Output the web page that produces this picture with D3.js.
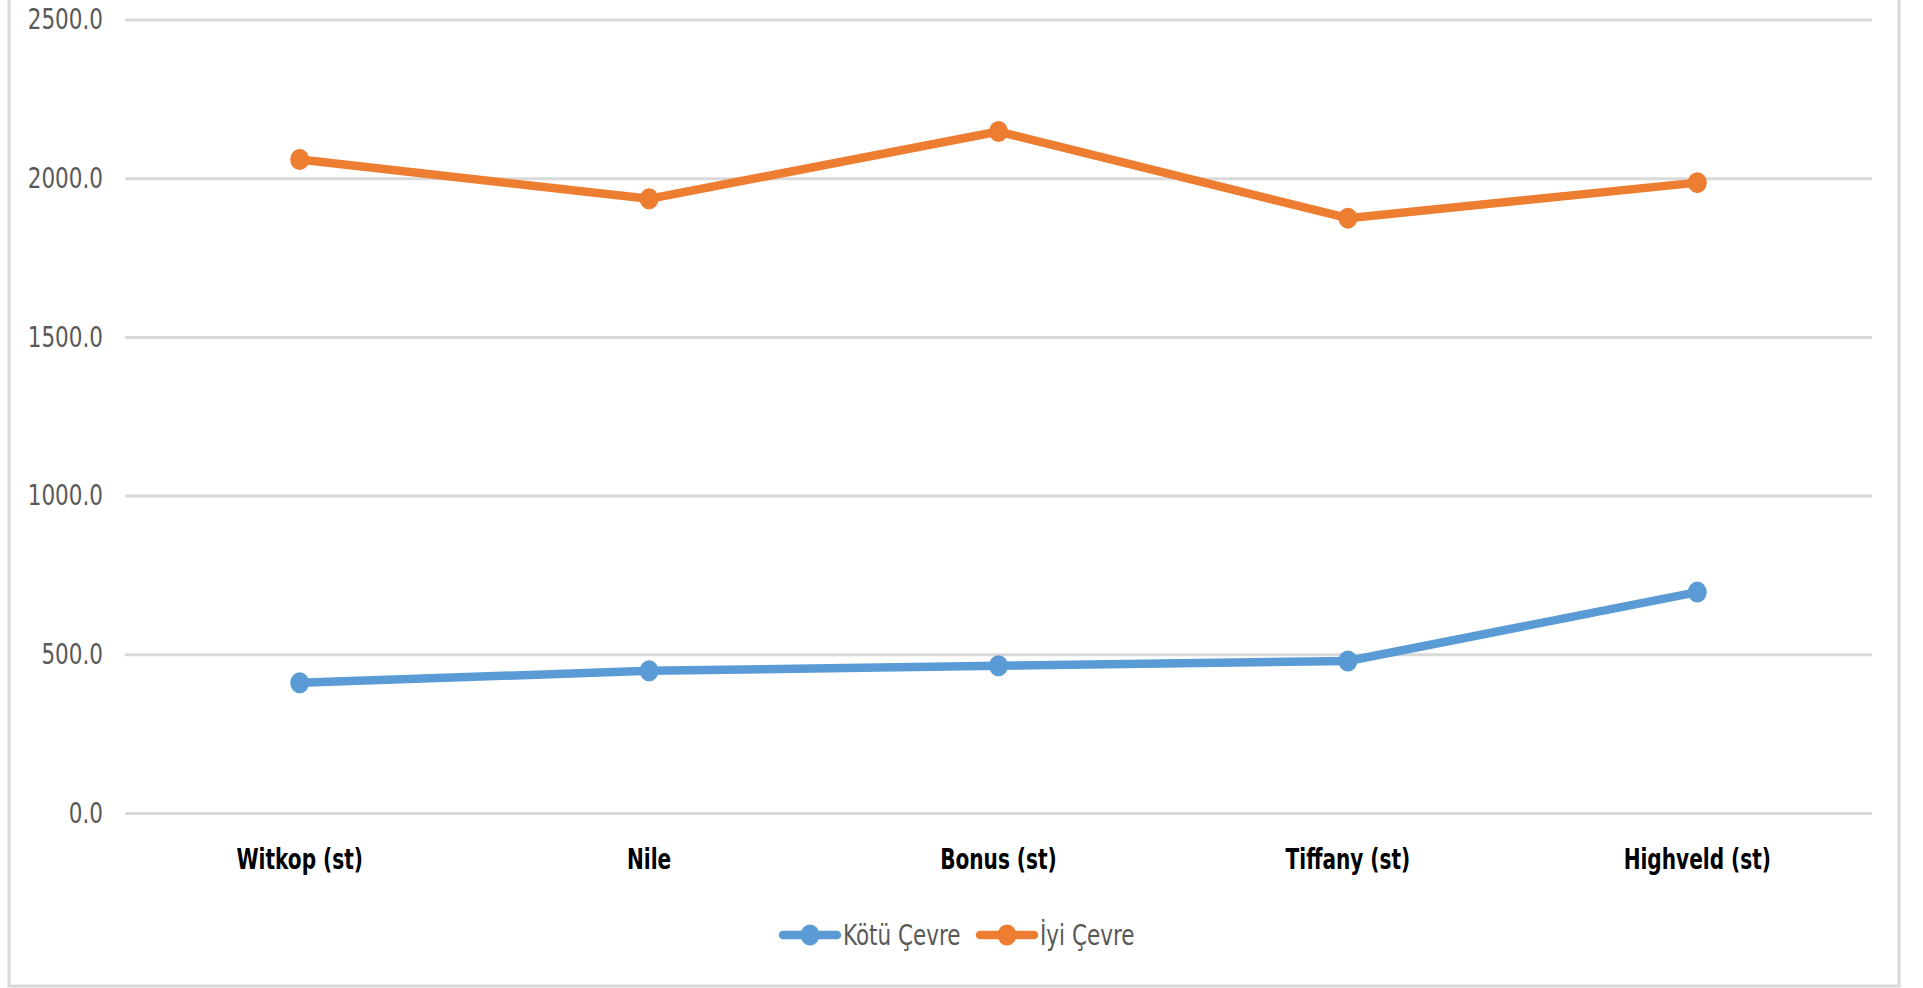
<!DOCTYPE html>
<html>
<head>
<meta charset="utf-8">
<script src="https://cdn.jsdelivr.net/npm/d3@7"></script>
<style>
  body { margin: 0; background: #fff; }
  text { font-family: "DejaVu Sans Condensed", "Open Sans", sans-serif; }
</style>
</head>
<body>
<div class="graph"></div>
<script>
const categories = ["Witkop (st)", "Nile", "Bonus (st)", "Tiffany (st)", "Highveld (st)"];
const kotuCevre = [410, 448, 464, 479, 696];
const iyiCevre = [2059, 1935, 2147, 1874, 1986];
const yTicks = [0, 500, 1000, 1500, 2000, 2500];
const seriesNames = ["Kötü Çevre", "İyi Çevre"];
const seriesColors = ["#5B9BD5", "#ED7D31"];

const plotVars = ({
    width: 1923,
    height: 988,
    left: 125,
    right: 1872,
    top: 19.5,
    bottom: 813
});

// the reference font is tall and narrow, so squeeze glyphs horizontally
const squeeze = 0.84;
const squeezeBold = 0.77;

const svg = d3.select(".graph").append("svg")
    .attr("width", plotVars.width)
    .attr("height", plotVars.height);

// chart frame (top edge is cut off in the reference)
svg.append("path")
    .attr("d", `M9,0 V986 H1899 V0`)
    .attr("fill", "none")
    .attr("stroke", "#D9D9D9")
    .attr("stroke-width", 3);

const xScale = d3.scaleBand().domain(categories).range([plotVars.left, plotVars.right]);
const yScale = d3.scaleLinear().domain([0, 2500]).range([plotVars.bottom, plotVars.top]);

// gridlines + y labels
const yAxis = d3.axisLeft(yScale).tickValues(yTicks).tickFormat(d3.format(".1f"))
    .tickSize(-(plotVars.right - plotVars.left));
const yG = svg.append("g").attr("transform", `translate(${plotVars.left},0)`).call(yAxis);
yG.select(".domain").remove();
yG.selectAll("line").attr("stroke", "#D9D9D9").attr("stroke-width", 3);
yG.selectAll("text")
    .attr("x", -22 / squeeze)
    .attr("transform", `scale(${squeeze},1)`)
    .attr("fill", "#595959").style("font-size", "28.5px");

// category labels
const xAxis = d3.axisBottom(xScale).tickSize(0).tickPadding(35);
const xG = svg.append("g").attr("transform", `translate(0,${plotVars.bottom})`).call(xAxis);
xG.select(".domain").remove();
xG.selectAll("text")
    .attr("transform", `scale(${squeezeBold},1)`)
    .attr("fill", "#000").style("font-size", "29px").style("font-weight", "bold");

const allSeries = [kotuCevre, iyiCevre];
const lineGenerator = d3.line()
    .x((d, i) => xScale(categories[i]) + xScale.bandwidth() / 2)
    .y(d => yScale(d));

allSeries.forEach((values, s) => {
    svg.append("path").datum(values)
        .attr("d", lineGenerator)
        .attr("fill", "none")
        .attr("stroke", seriesColors[s])
        .attr("stroke-width", 8.5)
        .attr("stroke-linejoin", "round");
    svg.append("g").selectAll("ellipse").data(values).join("ellipse")
        .attr("cx", (d, i) => xScale(categories[i]) + xScale.bandwidth() / 2)
        .attr("cy", d => yScale(d))
        .attr("rx", 9.5)
        .attr("ry", 10.5)
        .attr("fill", seriesColors[s]);
});

// legend
const legendX = [783, 980];
const legend = svg.append("g").attr("transform", "translate(0,935)");
seriesNames.forEach((name, s) => {
    const g = legend.append("g").attr("transform", `translate(${legendX[s]},0)`);
    g.append("line").attr("x1", 0).attr("x2", 54).attr("y1", 0).attr("y2", 0)
        .attr("stroke", seriesColors[s]).attr("stroke-width", 8.5).attr("stroke-linecap", "round");
    g.append("ellipse").attr("cx", 27).attr("cy", 0).attr("rx", 9.5).attr("ry", 10.5).attr("fill", seriesColors[s]);
    g.append("text").attr("x", 60 / squeeze).attr("y", 0).attr("dy", "0.35em")
        .attr("transform", `scale(${squeeze},1)`)
        .attr("fill", "#595959").style("font-size", "28.5px").text(name);
});
</script>
</body>
</html>
